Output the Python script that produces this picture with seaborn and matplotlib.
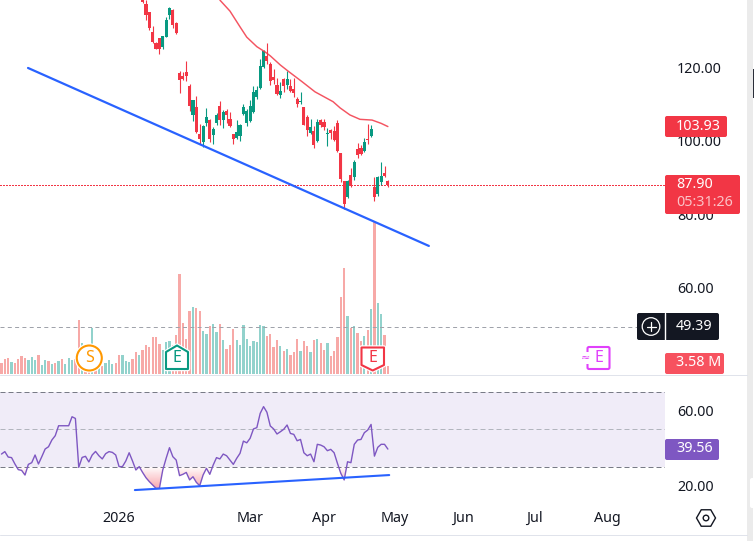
import numpy as np
import pandas as pd
import matplotlib
matplotlib.use("Agg")
import matplotlib.pyplot as plt
import matplotlib.patheffects as pe
from matplotlib.patches import Circle, FancyBboxPatch, Polygon, Rectangle, RegularPolygon
from matplotlib.path import Path
import seaborn as sns

# Daily candles, bar 0 is the first one whose body is inside the price window
opens = [138.4, 137.33, 135.15, 129.70, 126.80, 128.07, 125.62, 128.43, 134.33, 135.70, 132.15,
         118.5, 117.72, 118.81, 115.0, 107.09, 109.27, 101.92, 99.74, 104.92, 105.73, 101.65, 104.92,
         109.55, 105.73, 108.18, 106.0, 101.92, 100.83, 101.37, 107.37, 104.92, 105.46, 107.91, 112.0,
         114.45, 120.17, 123.17, 121.0, 117.45, 115.27,
         112.54, 116.9, 115.27, 115.0, 114.18, 111.45, 110.64, 109.27, 106.55, 102.19, 102.74, 100.01,
         105.73, 105.19, 102.0, 103.01, 102.74, 104.91, 96.74, 89.12, 84.76, 90.75, 90.21, 97.83, 98.1,
         97.29, 100.56, 101.37, 87.48, 85.57, 88.84, 91.3, 89.12]
highs = [140.0, 138.4, 135.15, 131.34, 127.07, 128.07, 128.61, 133.88, 136.60, 135.97, 132.43,
         119.08, 118.81, 121.80, 115.54, 111.18, 112.27, 104.64, 104.28, 109.0, 106.0, 103.83, 107.64,
         110.91, 108.46, 108.73, 107.91, 101.92, 105.73, 104.64, 110.09, 108.73, 111.18, 115.0, 115.0,
         122.35, 124.8, 126.7, 121.53, 119.62, 117.17,
         116.08, 117.17, 119.08, 116.9, 117.17, 112.0, 113.36, 109.27, 107.09, 106.0, 104.1, 106.0,
         106.0, 106.0, 103.55, 103.28, 104.1, 105.73, 96.74, 89.12, 89.39, 92.66, 94.84, 99.47, 98.92,
         100.83, 104.64, 104.37, 90.2, 90.48, 94.29, 93.2, 89.39]
lows = [137.5, 132.97, 130.25, 126.80, 125.07, 123.71, 125.07, 128.43, 133.24, 130.79, 129.16,
        113.09, 116.63, 116.36, 108.18, 105.46, 102.10, 99.2, 98.29, 104.1, 99.74, 99.2, 104.37,
        104.37, 103.55, 104.92, 103.83, 99.2, 100.56, 100.01, 107.09, 104.1, 105.19, 107.64, 111.45,
        114.18, 119.9, 121.0, 115.27, 115.54, 112.54,
        111.72, 113.36, 114.18, 113.36, 112.0, 109.27, 110.09, 104.37, 101.37, 101.92, 98.1, 99.74,
        103.83, 103.01, 98.65, 100.56, 100.01, 97.02, 88.84, 81.49, 84.48, 87.48, 89.39, 95.38, 96.2,
        97.02, 99.19, 101.1, 83.67, 85.03, 88.03, 90.2, 87.48]
closes = [137.9, 134.33, 130.88, 127.07, 125.07, 125.07, 128.61, 132.97, 136.24, 131.61, 129.43,
          116.6, 116.90, 117.72, 109.55, 111.18, 102.46, 100.56, 104.10, 106.55, 100.56, 103.28, 107.09,
          105.73, 107.91, 107.09, 104.1, 100.56, 102.46, 104.37, 109.27, 108.18, 109.55, 113.36, 113.9,
          120.44, 124.53, 121.8, 116.36, 116.63, 112.82,
          113.63, 115.0, 116.9, 113.63, 113.09, 110.09, 110.91, 104.37, 103.01, 103.83, 98.92, 105.19,
          104.37, 103.83, 102.19, 102.19, 100.28, 97.29, 89.66, 82.85, 89.12, 87.75, 94.29, 96.2, 96.47,
          99.74, 100.28, 103.28, 84.76, 90.2, 90.48, 90.48, 87.90]

# Volume in millions, bars -42 to 73, and whether each session closed up (u) or down (d)
volumes = [4.9, 6.7, 7.2, 5.4, 4.9, 6.7, 8.1, 7.2, 6.3, 7.6, 6.3, 8.5, 4.0, 6.3, 5.8,
           4.5, 4.9, 5.8, 6.7, 4.5, 7.2, 6.3, 6.7, 24.2, 13.9, 10.7, 8.9, 20.6, 6.3, 4.5,
           3.6, 4.9, 6.3, 4.5, 4.9, 8.5, 8.5, 5.8, 5.4, 6.7, 9.8, 8.5, 10.7, 13.0, 12.1,
           16.6, 16.6, 13.4, 10.7, 14.3, 14.8, 13.0, 17.5, 44.8, 22.8, 15.7, 28.2, 30.0, 29.5,
           28.2, 19.2, 17.9, 21.5, 22.4, 18.8, 22.4, 15.2, 11.2, 13.0, 20.1, 15.2, 13.0, 21.9, 15.7,
           12.5, 14.8, 14.3, 21.9, 21.5, 17.0, 17.9, 12.1, 15.2, 12.5, 10.3, 11.2, 8.5, 9.8, 15.7,
           10.3, 14.8, 12.5, 9.8, 15.2, 15.7, 13.9, 10.7, 13.9, 8.1, 10.3, 16.6, 34.5, 47.4, 26.0,
           20.6, 21.5, 18.3, 14.8, 17.0, 19.7, 29.1, 68.0, 31.8, 26.9, 17.5, 3.58]
volume_side = ("dddud" "ddduu" "uduud" "ududu" "uuddu" "ddudu" "duuud" "duuud" "duddd" "ddduu" "udddd" "ddud"
               "duudu" "ududd" "duuuu" "uuuuu" "ddddu" "duddd" "uddud" "uddud" "ddddu" "duddu" "duduu" "dd")

# RSI(14), bars -42 to 73
rsi_values = [36.9, 38.2, 35.3, 35.0, 31.6, 28.6, 28.2, 25.7, 31.4, 32.3, 36.4, 31.6, 35.5, 39.6, 40.8,
              44.4, 46.7, 52.0, 52.0, 52.0, 52.0, 56.8, 55.9, 29.8, 35.1, 35.7, 32.7, 36.4, 38.3, 36.0,
              34.3, 37.1, 38.2, 37.8, 36.4, 30.2, 30.2, 33.2, 37.6, 33.2, 28.4, 30.2, 27.1, 24.3, 22.2,
              20.4, 18.6, 18.6, 28.4, 34.6, 40.3, 35.5, 33.7, 25.4, 26.1, 27.1, 23.1, 24.8, 21.8,
              20.0, 25.7, 29.3, 26.1, 31.0, 35.0, 34.3, 36.9, 36.0, 33.7, 31.4, 34.6, 37.3, 43.8, 42.9,
              45.3, 50.3, 51.0, 58.6, 62.2, 59.2, 51.9, 50.3, 47.6, 48.8, 50.1, 52.4, 47.9, 47.4, 44.0,
              44.7, 37.6, 36.0, 36.9, 32.8, 42.1, 41.7, 40.8, 38.7, 39.4, 37.6, 31.9, 26.6, 23.1, 32.8,
              32.3, 42.1, 44.4, 44.7, 48.3, 49.7, 52.7, 35.8, 40.5, 42.1, 42.1, 39.56]

# Moving average read at selected bars
ma_bars = [23, 26, 29, 31, 34, 36.4, 38, 41, 43.5, 47.4, 51.3, 56.7, 58.8, 61.7, 64.7, 68.3, 71, 73]
ma_values = [138.4, 135.4, 131.1, 128.3, 125.7, 124.3, 123.2, 120.7, 118.9, 116.2, 113.4, 110.7, 109.0,
             107.1, 105.9, 105.7, 104.8, 103.93]

# Hand-drawn trend lines as (bar, value) ends
price_trend_bars = [-34.1, 85.2]
price_trend_values = [119.9, 71.4]
rsi_trend_bars = [-2.3, 73.4]
rsi_trend_values = [17.7, 25.7]

month_bars = [-7, 32, 54, 75.1, 95.4, 116.5, 138.2]
month_labels = ["2026", "Mar", "Apr", "May", "Jun", "Jul", "Aug"]
price_ticks = [120, 100, 80, 60]
rsi_ticks = [60, 20]
last_close = 87.90
ma_last = 103.93
price_alert = 49.39
rsi_last = 39.56
volume_last_label = "3.58 M"
countdown = "05:31:26"

RED = "#f23645"
GREEN = "#089981"
PURPLE = "#7e57c2"
BLUE = "#2962ff"
INK = "#131722"
W, H = 754, 541

sns.set_theme(style="white")
plt.rcParams["font.family"] = ["Noto Sans", "DejaVu Sans"]
plt.rcParams["font.size"] = 10.3

fig = plt.figure(figsize=(W / 100, H / 100), dpi=100, facecolor="white")
ax = fig.add_axes([0, 1 - 374 / H, 665 / W, 374 / H])
ax_vol = ax.twinx()
ax_rsi = fig.add_axes([0, 1 - 505 / H, 665 / W, 131 / H])
xlim = (-42.44, 155.48)

# Volume bars sit behind the candles
vol_bars = np.arange(-42, 74)
vol_df = pd.DataFrame({"bar": vol_bars, "volume": volumes, "side": list(volume_side)})
sns.barplot(data=vol_df, x="bar", y="volume", hue="side", palette={"u": "#92d2cc", "d": "#f7a9a7"},
            native_scale=True, dodge=False, width=0.68, saturation=1, legend=False, linewidth=0, ax=ax_vol)
ax_vol.set_ylim(0, 167.4)
ax_vol.set_xlim(*xlim)
ax_vol.axis("off")
ax_vol.set_zorder(1)
ax.set_zorder(2)
ax.patch.set_visible(False)

# Candles
bars = np.arange(len(opens))
o, h, l, c = map(np.array, (opens, highs, lows, closes))
colors = np.where(c >= o, GREEN, RED)
ax.vlines(bars, l, h, colors=colors, linewidth=0.8, zorder=3)
ax.bar(bars, np.maximum(np.abs(c - o), 0.3), bottom=np.minimum(o, c), width=0.92, color=colors,
       linewidth=0, zorder=4)

sns.lineplot(x=ma_bars, y=ma_values, color=RED, alpha=0.85, linewidth=1.05, errorbar=None, ax=ax, zorder=5)
sns.lineplot(x=price_trend_bars, y=price_trend_values, color=BLUE, linewidth=1.6, errorbar=None, ax=ax, zorder=6)
ax.axhline(last_close, color=RED, linewidth=0.8, linestyle=(0, (1, 1.7)), antialiased=False, zorder=2)
ax.axhline(price_alert, color="#a0a3ab", linewidth=0.72, linestyle=(0, (4, 3.3)), zorder=2)

ax.set_xlim(*xlim)
ax.set_ylim(36.5, 138.42)
ax.yaxis.tick_right()
ax.set_yticks(price_ticks)
ax.set_yticklabels([f"{t:.2f}" for t in price_ticks])
ax.set_xticks([])
ax.tick_params(axis="y", length=0, pad=8.6, labelcolor=INK, labelsize=10.3)
ax.set_xlabel("")
ax.set_ylabel("")
for spine in ax.spines.values():
    spine.set_visible(False)

# RSI pane
rsi_bars = np.arange(-42, 74)
rsi_arr = np.array(rsi_values)
ax_rsi.axhspan(30, 70, facecolor=PURPLE, alpha=0.11, linewidth=0, zorder=1)
ax_rsi.axhline(70, color="#787b86", linewidth=0.72, linestyle=(0, (5, 3)), zorder=2)
ax_rsi.axhline(50, color="#b2b5be", linewidth=0.72, linestyle=(0, (5, 3)), zorder=2)
ax_rsi.axhline(30, color="#787b86", linewidth=0.72, linestyle=(0, (5, 3)), zorder=2)

under = ax_rsi.fill_between(rsi_bars, rsi_arr, 30, where=rsi_arr < 30, interpolate=True,
                            facecolor="none", linewidth=0)
ramp = np.zeros((64, 2, 4))
ramp[..., :3] = matplotlib.colors.to_rgb(RED)
ramp[..., 3] = np.linspace(0.0, 0.45, 64)[:, None]
shade = ax_rsi.imshow(ramp, extent=(xlim[0], xlim[1], 18, 30), origin="upper", aspect="auto", zorder=2)
shade.set_clip_path(Path.make_compound_path(*under.get_paths()), transform=ax_rsi.transData)

sns.lineplot(x=rsi_bars, y=rsi_arr, color=PURPLE, linewidth=1.0, errorbar=None, ax=ax_rsi, zorder=4)
sns.lineplot(x=rsi_trend_bars, y=rsi_trend_values, color=BLUE, linewidth=1.5, errorbar=None, ax=ax_rsi, zorder=5)

ax_rsi.set_xlim(*xlim)
ax_rsi.set_ylim(9.73, 79.6)
ax_rsi.patch.set_visible(False)
ax_rsi.yaxis.tick_right()
ax_rsi.set_yticks(rsi_ticks)
ax_rsi.set_yticklabels([f"{t:.2f}" for t in rsi_ticks])
ax_rsi.set_xticks(month_bars)
ax_rsi.set_xticklabels(month_labels)
ax_rsi.get_xticklabels()[0].set_fontweight("bold")
ax_rsi.tick_params(axis="both", length=0, labelcolor=INK, labelsize=10.3)
ax_rsi.tick_params(axis="y", pad=8.6)
ax_rsi.tick_params(axis="x", pad=4)
ax_rsi.set_xlabel("")
ax_rsi.set_ylabel("")
for spine in ax_rsi.spines.values():
    spine.set_visible(False)

# Overlay in screen pixels for the value tags, event badges and pane separators
over = fig.add_axes([0, 0, 1, 1], zorder=10)
over.set_xlim(0, W)
over.set_ylim(H, 0)
over.axis("off")
over.patch.set_visible(False)


def tag(x0, y0, x1, y1, color):
    over.add_patch(FancyBboxPatch((x0, y0), x1 - x0, y1 - y0, boxstyle="round,pad=0,rounding_size=2",
                                  facecolor=color, edgecolor="none"))


def tag_text(x, y, s, color="white"):
    over.text(x, y, s, color=color, fontsize=10.3, va="center", ha="left")


halo = [pe.withStroke(linewidth=3.2, foreground="white")]

over.add_patch(Rectangle((747, 0), 6.4, H, facecolor="#ebebeb", edgecolor="none"))
over.add_patch(FancyBboxPatch((750, 478), 6, 30, boxstyle="round,pad=0,rounding_size=2",
                              facecolor="white", edgecolor="none"))
over.add_patch(Rectangle((753, 69), 1, 29, facecolor="#2a2e39", edgecolor="none"))
over.plot([0, 747], [374.5, 374.5], color="#e0e3eb", linewidth=0.72)
over.plot([0, 747], [534.5, 534.5], color="#e0e3eb", linewidth=0.72)

tag(665, 116, 727, 137, RED)
tag_text(676, 126, f"{ma_last:.2f}")
tag(665, 175, 740, 214, RED)
tag_text(676, 185, f"{last_close:.2f}")
tag_text(676, 203, countdown, "#fbc3c7")
tag(637, 313, 719, 340, INK)
over.plot([664.5, 664.5], [313, 340], color="white", linewidth=1)
tag_text(676, 326, f"{price_alert:.2f}")
over.add_patch(Circle((651, 326.5), 8.8, facecolor="none", edgecolor="white", linewidth=0.9))
over.plot([646.5, 655.5], [326.5, 326.5], color="white", linewidth=0.9)
over.plot([651, 651], [322, 331], color="white", linewidth=0.9)
tag(665, 353, 724, 374, "#f7525f")
tag_text(676, 363, volume_last_label)
tag(665, 439, 719, 460, PURPLE)
tag_text(676, 449, f"{rsi_last:.2f}")

# Dividend and earnings badges
over.add_patch(Circle((89.3, 358), 12.5, facecolor="white", edgecolor="#ff9800", linewidth=1.5,
                      path_effects=halo))
over.text(89.3, 358, "S", color="#ff9800", fontsize=11.5, ha="center", va="center")
over.add_patch(Polygon([(166, 369), (166, 352), (177, 345.5), (188, 352), (188, 369)], closed=True,
                       facecolor="white", edgecolor=GREEN, linewidth=1.5, joinstyle="round", path_effects=halo))
over.text(177, 358.5, "E", color=GREEN, fontsize=11.5, ha="center", va="center")
over.add_patch(Polygon([(361.5, 347.5), (384, 347.5), (384, 365), (372.7, 370.5), (361.5, 365)], closed=True,
                       facecolor="white", edgecolor=RED, linewidth=1.5, joinstyle="round", path_effects=halo))
over.text(372.7, 358, "E", color=RED, fontsize=11.5, ha="center", va="center")
over.add_patch(FancyBboxPatch((587.5, 347), 22, 22, boxstyle="round,pad=0,rounding_size=1.5",
                              facecolor="white", edgecolor="#e040fb", linewidth=1.5))
over.text(598.5, 358, "E", color="#e040fb", fontsize=11.5, ha="center", va="center")
over.text(585.5, 358, "\u2248", color="#e040fb", fontsize=8, ha="center", va="center",
          bbox=dict(facecolor="white", edgecolor="none", pad=0.3))

# Settings cog
over.add_patch(RegularPolygon((706, 518), 6, radius=9.5, orientation=np.pi / 2, facecolor="none",
                              edgecolor=INK, linewidth=1))
over.add_patch(Circle((706, 518), 2.8, facecolor="none", edgecolor=INK, linewidth=1))

fig.savefig("out.png", dpi=100, facecolor="white")
